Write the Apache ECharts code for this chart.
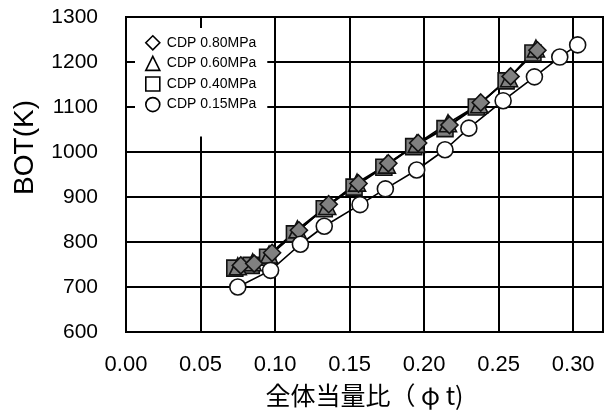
<!DOCTYPE html>
<html>
<head>
<meta charset="utf-8">
<script src="https://cdn.jsdelivr.net/npm/echarts@6/dist/echarts.min.js"></script>
<style>
  html, body { margin: 0; padding: 0; background: #fff; }
  #chart { width: 610px; height: 413px; }
</style>
</head>
<body>
<div id="chart"></div>
<script>
// Equivalence ratio (phi t) vs. burner outlet temperature at four CDP levels
const xTicks = [0.00, 0.05, 0.10, 0.15, 0.20, 0.25, 0.30];
const yTicks = [600, 700, 800, 900, 1000, 1100, 1200, 1300];

const phi080 = [0.077, 0.086, 0.098, 0.116, 0.136, 0.156, 0.176, 0.196, 0.217, 0.238, 0.258, 0.276];
const bot080 = [748, 752, 776, 826, 884, 930, 975, 1020, 1060, 1110, 1168, 1226];

const phi060 = [0.075, 0.085, 0.096, 0.115, 0.135, 0.155, 0.175, 0.195, 0.216, 0.237, 0.257, 0.275];
const bot060 = [746, 755, 772, 828, 880, 932, 972, 1018, 1064, 1106, 1164, 1230];

const phi040 = [0.073, 0.084, 0.095, 0.113, 0.133, 0.153, 0.173, 0.193, 0.214, 0.235, 0.255, 0.273];
const bot040 = [742, 748, 766, 818, 874, 922, 966, 1012, 1052, 1100, 1158, 1220];

const phi015 = [0.075, 0.097, 0.117, 0.133, 0.157, 0.174, 0.195, 0.214, 0.230, 0.253, 0.274, 0.291, 0.303];
const bot015 = [700, 737, 795, 835, 883, 918, 960, 1005, 1053, 1114, 1167, 1211, 1238];

const names = ['CDP 0.80MPa', 'CDP 0.60MPa', 'CDP 0.40MPa', 'CDP 0.15MPa'];
const symbols = ['diamond', 'triangle', 'rect', 'circle'];

const zip = (xs, ys) => xs.map((x, i) => [x, ys[i]]);

function makeSeries(name, symbol, xs, ys, fill, size) {
  return {
    name: name,
    type: 'line',
    data: zip(xs, ys),
    symbol: symbol,
    symbolSize: size,
    lineStyle: { color: '#000', width: 1.6 },
    itemStyle: { color: fill, borderColor: '#111', borderWidth: 1.6 },
    emphasis: { disabled: true },
    animation: false
  };
}

const chart = echarts.init(document.getElementById('chart'));
chart.setOption({
  backgroundColor: '#fff',
  animation: false,
  grid: {
    left: 126, right: 7, top: 17, bottom: 75,
    show: true, borderColor: '#000', borderWidth: 2, backgroundColor: 'transparent'
  },
  legend: {
    orient: 'vertical',
    left: 135, top: 28,
    padding: [7, 11, 24, 10],
    backgroundColor: '#fff',
    itemWidth: 14, itemHeight: 14, itemGap: 5,
    textStyle: { fontFamily: 'Liberation Sans, Arial, sans-serif', fontSize: 14, color: '#000', padding: [0, 0, 0, 2] },
    data: names.map((n, i) => ({
      name: n,
      icon: symbols[i],
      itemStyle: { color: '#fff', borderColor: '#000', borderWidth: 1.6 }
    }))
  },
  xAxis: {
    type: 'value',
    min: 0, max: 0.32, interval: 0.05,
    axisLine: { show: true, lineStyle: { color: '#000', width: 2 } },
    axisTick: { show: false },
    splitLine: { show: true, lineStyle: { color: '#000', width: 2 } },
    axisLabel: {
      showMaxLabel: false,
      margin: 22,
      fontFamily: 'Liberation Sans, Arial, sans-serif', fontSize: 22, color: '#000',
      formatter: v => v.toFixed(2)
    },
    name: '全体当量比（ φ t)',
    nameLocation: 'middle',
    nameGap: 51,
    nameTextStyle: { fontFamily: 'Noto Sans CJK JP', fontSize: 25, color: '#000' }
  },
  yAxis: {
    type: 'value',
    min: 600, max: 1300, interval: 100,
    axisLine: { show: true, lineStyle: { color: '#000', width: 2 } },
    axisTick: { show: false },
    splitLine: { show: true, lineStyle: { color: '#000', width: 2 } },
    axisLabel: {
      margin: 28,
      fontFamily: 'Liberation Sans, Arial, sans-serif', fontSize: 21, color: '#000',
      formatter: v => String(v)
    }
  },
  graphic: [{
    type: 'text',
    left: 11, top: 100,
    rotation: Math.PI / 2,
    style: {
      text: 'BOT(K)',
      font: '28px "Liberation Sans", Arial, sans-serif',
      fill: '#000'
    }
  }],
  series: [
    makeSeries(names[2], symbols[2], phi040, bot040, '#808080', 16),
    makeSeries(names[1], symbols[1], phi060, bot060, '#808080', 17),
    makeSeries(names[0], symbols[0], phi080, bot080, '#808080', 17),
    makeSeries(names[3], symbols[3], phi015, bot015, '#fff', 16)
  ]
});
</script>
</body>
</html>
